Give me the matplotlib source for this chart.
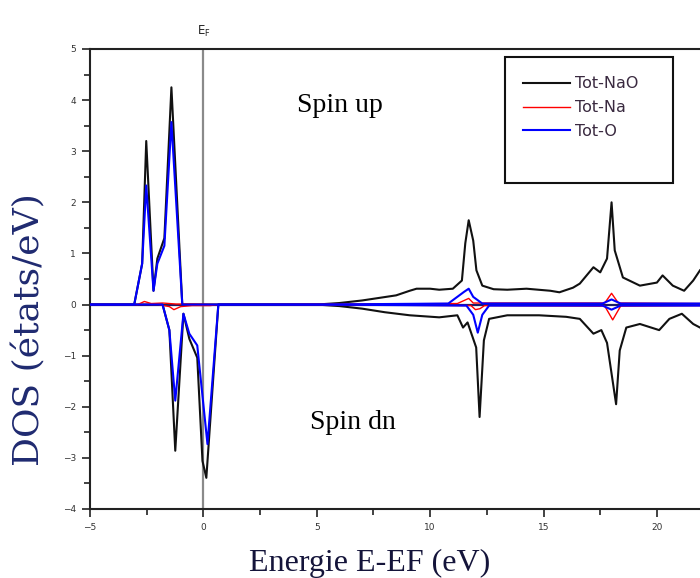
import matplotlib.pyplot as plt
from matplotlib.patches import Rectangle
from matplotlib.ticker import MultipleLocator

# Total DOS of NaO (spin up / spin down), with Na and O contributions
nao_up_e = [-5, -3.05, -2.7, -2.52, -2.2, -2.03, -1.72, -1.41, -0.93, 5.0, 6.0, 7.0,
            7.9, 8.5, 9.1, 9.4, 10.0, 10.4, 11.0, 11.4, 11.55, 11.7, 11.9, 12.04,
            12.3, 12.8, 13.4, 14.25, 15.3, 15.7, 16.3, 16.6, 17.2, 17.5, 17.8, 18.0,
            18.14, 18.5, 19.25, 20.0, 20.25, 20.7, 21.2, 21.6, 21.9]
nao_up = [0, 0, 0.8, 3.2, 0.27, 0.9, 1.3, 4.25, 0, 0, 0.03, 0.08,
          0.14, 0.18, 0.27, 0.31, 0.31, 0.29, 0.31, 0.47, 1.2, 1.65, 1.25, 0.67,
          0.37, 0.3, 0.29, 0.31, 0.27, 0.24, 0.33, 0.41, 0.73, 0.63, 0.9, 2.0,
          1.06, 0.53, 0.37, 0.43, 0.57, 0.37, 0.27, 0.47, 0.67]

nao_dn_e = [-5, -1.8, -1.5, -1.24, -0.88, -0.62, -0.27, -0.04, 0.13, 0.66, 5.0, 6.0,
            7.0, 8.0, 9.1, 10.4, 11.2, 11.45, 11.65, 12.03, 12.18, 12.37, 12.6, 13.4,
            14.8, 16.0, 16.6, 17.2, 17.55, 17.8, 18.2, 18.36, 18.65, 19.25, 20.1,
            20.55, 21.1, 21.6, 21.9]
nao_dn = [0, 0, -0.5, -2.86, -0.18, -0.67, -1.04, -3.06, -3.39, 0, 0, -0.03,
          -0.08, -0.15, -0.21, -0.25, -0.21, -0.45, -0.35, -0.84, -2.2, -0.7, -0.28, -0.21,
          -0.21, -0.24, -0.28, -0.57, -0.5, -0.75, -1.95, -0.9, -0.45, -0.38, -0.5,
          -0.28, -0.18, -0.38, -0.45]

o_up_e = [-5, -3.05, -2.7, -2.52, -2.2, -2.03, -1.72, -1.41, -0.93, 5, 10.8, 11.5,
          11.7, 11.9, 12.3, 17.6, 18.0, 18.4, 21.9]
o_up = [0, 0, 0.8, 2.33, 0.27, 0.8, 1.15, 3.57, 0, 0, 0.02, 0.25,
        0.31, 0.15, 0.02, 0.02, 0.1, 0.02, 0.02]

o_dn_e = [-5, -1.8, -1.5, -1.24, -0.88, -0.62, -0.27, 0.18, 0.66, 5, 11.6, 11.9,
          12.1, 12.3, 12.6, 17.6, 18.0, 18.4, 21.9]
o_dn = [0, 0, -0.5, -1.88, -0.18, -0.57, -0.8, -2.73, 0, 0, -0.02, -0.2,
        -0.55, -0.2, -0.02, -0.02, -0.1, -0.02, -0.02]

na_up_e = [-5, -2.9, -2.6, -2.3, -1.8, -1.2, -0.5, 0.5, 11.2, 11.5, 11.7, 11.9,
           17.7, 18.0, 18.3, 21.9]
na_up = [0, 0, 0.06, 0.02, 0.03, 0.01, 0.01, 0, 0.02, 0.08, 0.12, 0.03,
         0.03, 0.22, 0.03, 0.02]

na_dn_e = [-5, -2.0, -1.5, -1.3, -1.0, -0.5, 0.3, 0.7, 11.8, 12.0, 12.2, 12.4,
           17.7, 18.05, 18.4, 21.9]
na_dn = [0, 0, -0.04, -0.1, -0.04, -0.02, -0.02, 0, -0.02, -0.1, -0.08, -0.02,
         -0.03, -0.3, -0.03, -0.02]

labels = ["Tot-NaO", "Tot-Na", "Tot-O"]
colors = ["#111111", "#ff0000", "#0000ff"]

fig = plt.figure(figsize=(7, 5.78), dpi=100)
ax = fig.add_axes([90 / 700, 1 - 509 / 578, 1 - 90 / 700, 460 / 578])

ax.axhline(0, color="#1c1c66", lw=1.6, zorder=1)
ax.axvline(0, color="#8a8a8a", lw=1.6, zorder=1)

ax.plot(nao_up_e, nao_up, color=colors[0], lw=1.5, label=labels[0], zorder=2)
ax.plot(nao_dn_e, nao_dn, color=colors[0], lw=1.5, zorder=2)
ax.plot(na_up_e, na_up, color=colors[1], lw=1.0, label=labels[1], zorder=3)
ax.plot(na_dn_e, na_dn, color=colors[1], lw=1.0, zorder=3)
ax.plot(o_up_e, o_up, color=colors[2], lw=1.5, label=labels[2], zorder=4)
ax.plot(o_dn_e, o_dn, color=colors[2], lw=1.5, zorder=4)

ax.set_xlim(-5, 21.9)
ax.set_ylim(-4, 5)
ax.xaxis.set_major_locator(MultipleLocator(5))
ax.xaxis.set_minor_locator(MultipleLocator(2.5))
ax.yaxis.set_major_locator(MultipleLocator(1))
ax.yaxis.set_minor_locator(MultipleLocator(0.5))
ax.tick_params(which="both", direction="out", width=1.2, color="#222222",
               labelsize=6.5, labelcolor="#333333")
ax.tick_params(which="major", length=6, pad=4)
ax.tick_params(which="minor", length=4)
ax.spines["right"].set_visible(False)
for side in ("left", "top", "bottom"):
    ax.spines[side].set_linewidth(1.5)
    ax.spines[side].set_color("#222222")

ax.text(0, 5.2, r"E$_\mathregular{F}$", ha="center", va="bottom", fontsize=8.5,
        color="#222222")
ax.text(6.0, 3.9, "Spin up", ha="center", va="center", fontsize=20,
        family="Liberation Serif")
ax.text(6.6, -2.3, "Spin dn", ha="center", va="center", fontsize=20,
        family="Liberation Serif")

fig.text(29 / 700, 1 - 330 / 578, "DOS (états/eV)", rotation=90, ha="center",
         va="center", fontsize=26, family="DejaVu Serif", color="#1f2a70")
fig.text(370 / 700, 1 - 563 / 578, "Energie E-EF (eV)", ha="center", va="center",
         fontsize=23, family="Liberation Serif", color="#14143a")

# legend with a separate, taller frame
fig.patches.append(Rectangle((505 / 700, 1 - 183 / 578), 168 / 700, 126 / 578,
                             transform=fig.transFigure, fill=True, facecolor="white",
                             edgecolor="#111111", lw=1.5, zorder=5))
leg = fig.legend(loc="upper left", bbox_to_anchor=(517 / 700, 1 - 70 / 578),
                 frameon=False, fontsize=11.5, handlelength=2.9, handletextpad=0.35,
                 labelspacing=0.55, borderaxespad=0)
leg.set_zorder(6)
for text in leg.get_texts():
    text.set_color("#3a2a40")

fig.savefig("out.png", dpi=100)
